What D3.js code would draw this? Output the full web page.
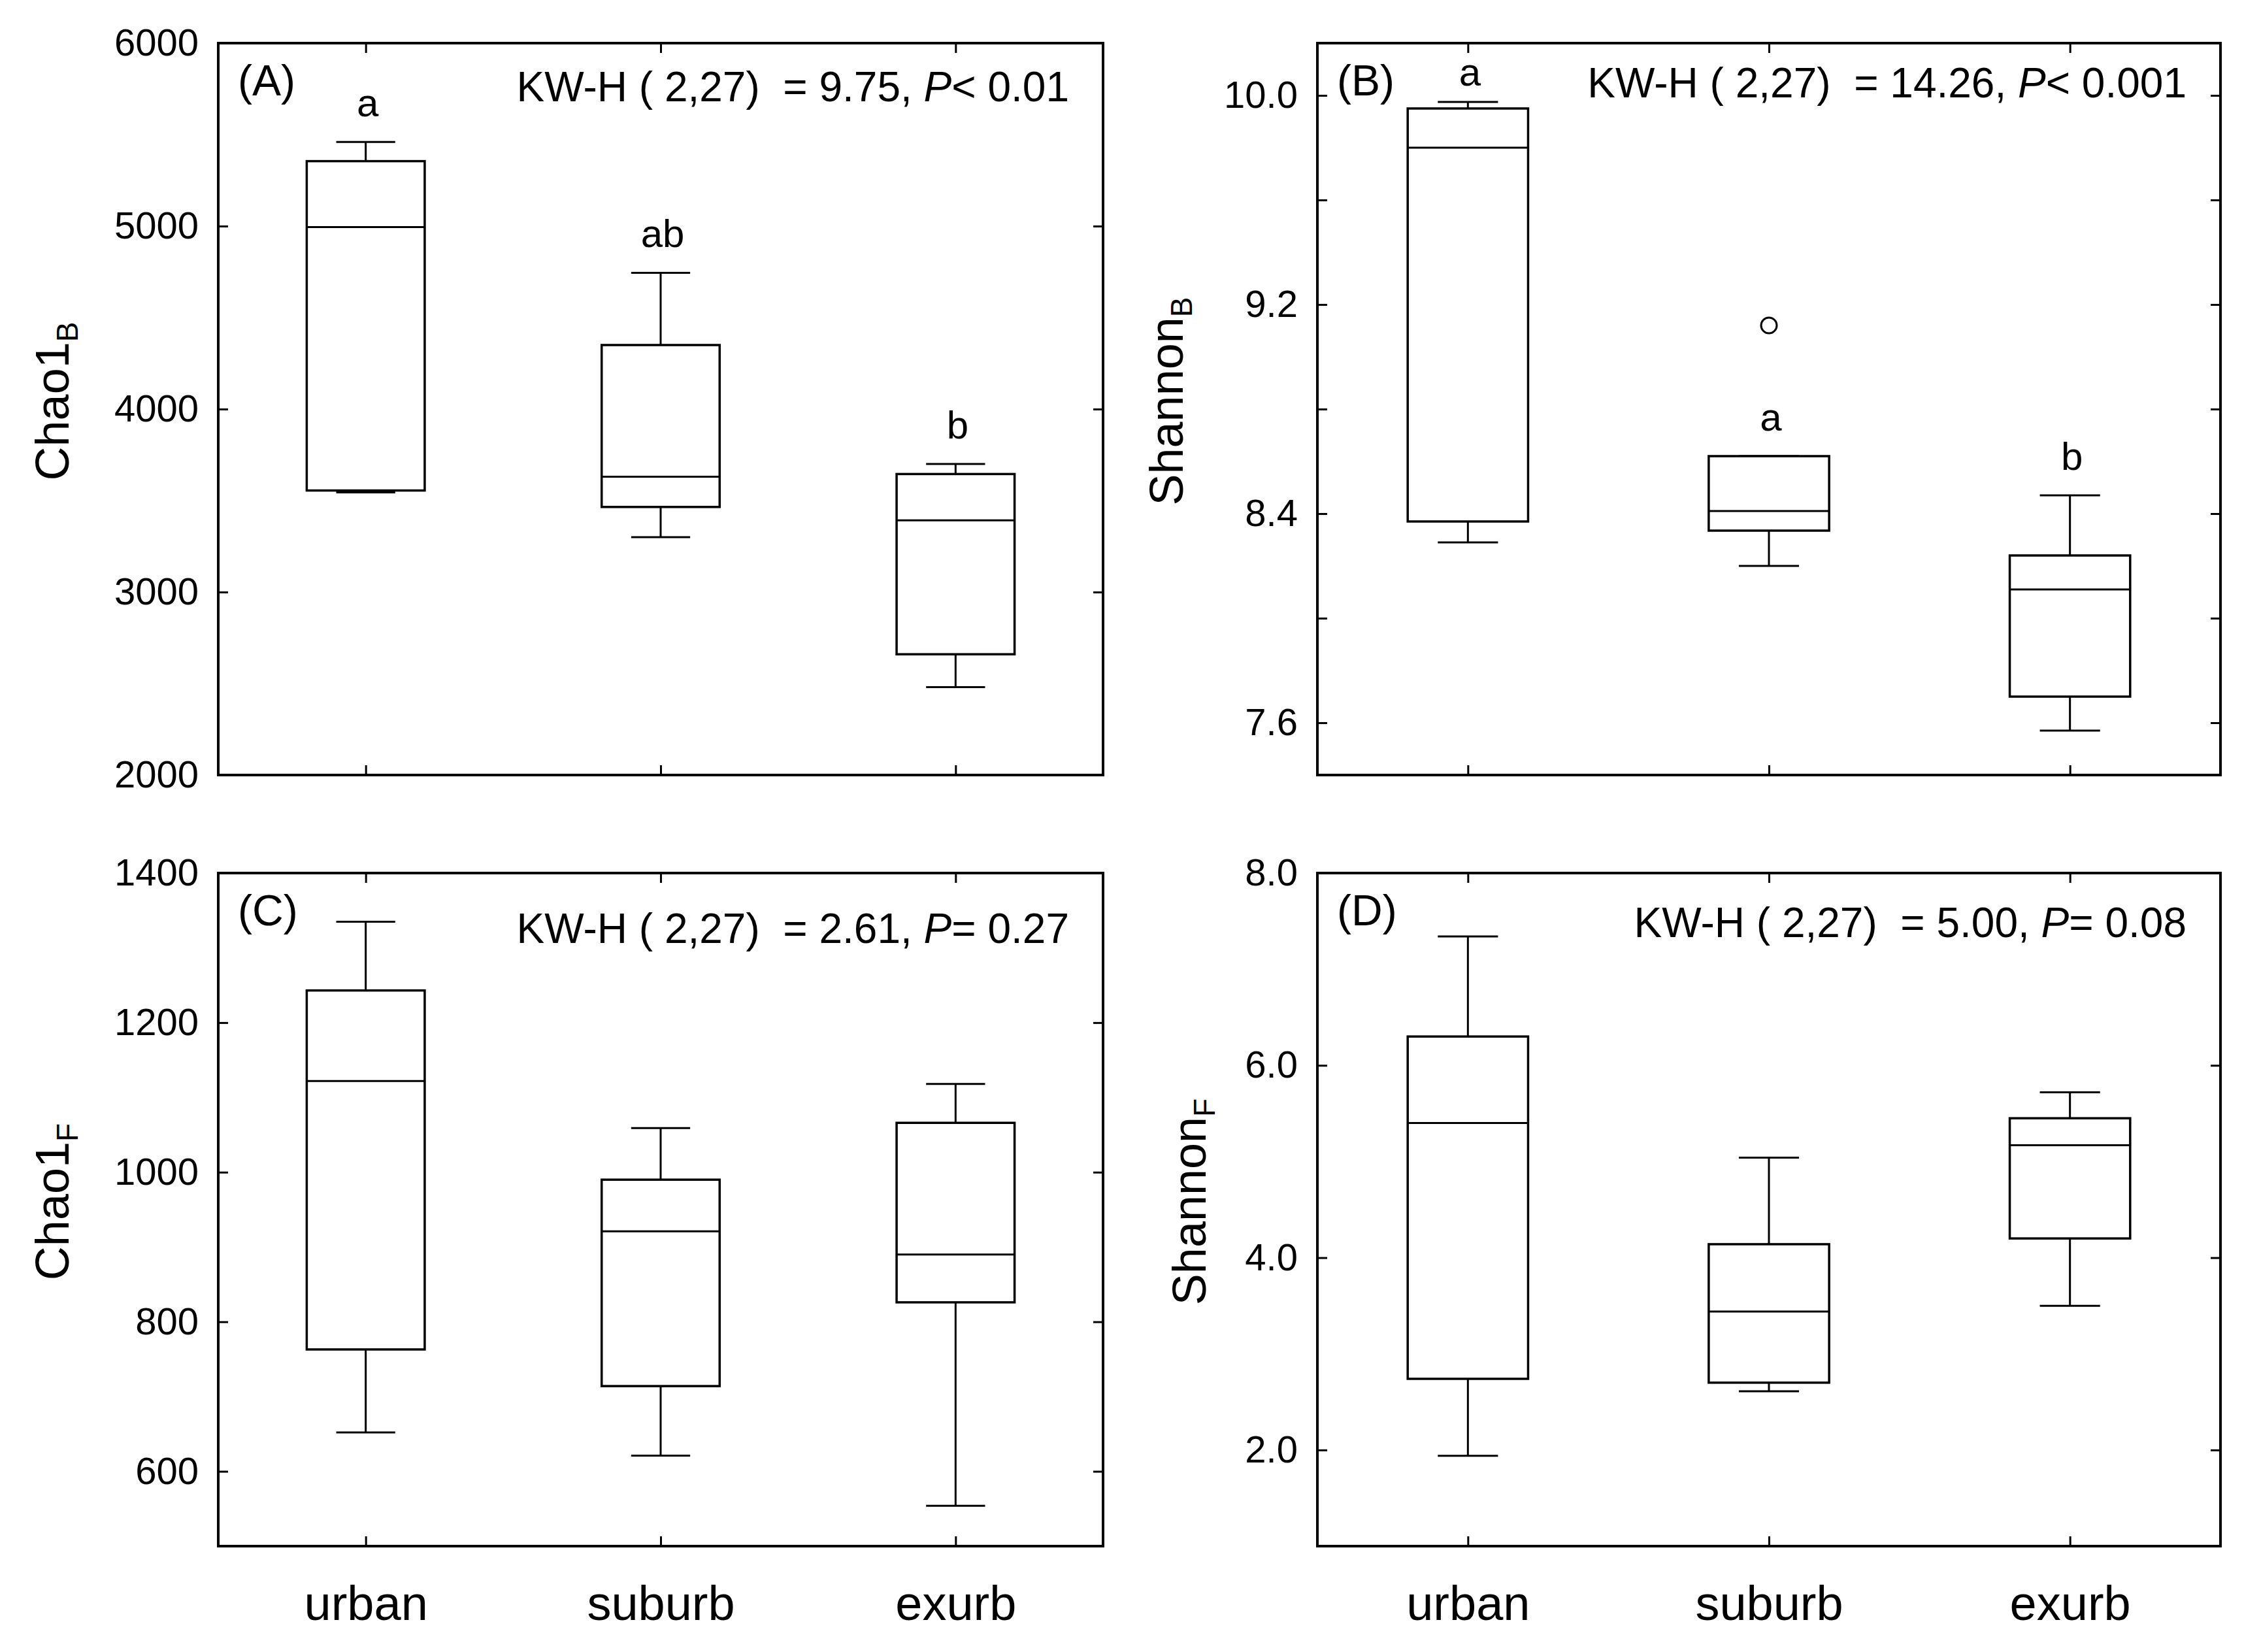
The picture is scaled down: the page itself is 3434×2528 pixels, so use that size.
<!DOCTYPE html>
<html>
<head>
<meta charset="utf-8">
<script src="https://cdn.jsdelivr.net/npm/d3@7"></script>
<style>
  body { margin: 0; background: #fff; }
  text { font-family: "Liberation Sans", Arial, sans-serif; fill: #000; }
</style>
</head>
<body>
<div id="chart"></div>
<script>
// ---------- DATA ----------
// box stats per group: [whisker low, q1, median, q3, whisker high]
const groups = ["urban", "suburb", "exurb"];

const chaoB = [
  [3545, 3555, 4995, 5355, 5460],
  [3300, 3465, 3630, 4350, 4745],
  [2480, 2660, 3392, 3645, 3700]
];
const shannonB = [
  [8.29, 8.37, 9.80, 9.95, 9.975],
  [8.20, 8.335, 8.41, 8.62, 8.62],
  [7.57, 7.70, 8.11, 8.24, 8.47]
];
const shannonBOutliers = [["suburb", 9.12]];
const chaoF = [
  [652, 763, 1122, 1243, 1335],
  [621, 714, 921, 990, 1059],
  [554, 826, 890, 1066, 1118]
];
const shannonF = [
  [1.94, 2.74, 5.40, 6.30, 7.34],
  [2.61, 2.70, 3.44, 4.14, 5.04],
  [3.50, 4.20, 5.17, 5.45, 5.72]
];

const lettersA = ["a", "ab", "b"];
const lettersB = ["a", "a", "b"];

const chaoBTicks = [2000, 3000, 4000, 5000, 6000];
const shannonBTicks = [7.6, 8.0, 8.4, 8.8, 9.2, 9.6, 10.0];
const shannonBLabels = [7.6, 8.4, 9.2, 10.0];
const chaoFTicks = [600, 800, 1000, 1200, 1400];
const shannonFTicks = [2, 4, 6, 8];

const kwH = ["9.75", "14.26", "2.61", "5.00"];
const pText = ["< 0.01", "< 0.001", "= 0.27", "= 0.08"];

// ---------- SVG ----------
const W = 3434, H = 2528;
const svg = d3.select("#chart").append("svg")
  .attr("width", W).attr("height", H);

const panels = [
  { id: "(A)", left: 334, right: 1688, top: 66, bottom: 1186, domain: [2000, 6000],
    data: chaoB, ticks: chaoBTicks, fmt: d => d, letters: lettersA,
    title: "Chao1", sub: "B", titleX: 80, stat: 0, statDy: 89, cats: false },
  { id: "(B)", left: 2016, right: 3398, top: 66, bottom: 1186, domain: [7.4, 10.2],
    data: shannonB, ticks: shannonBTicks, fmt: d => shannonBLabels.includes(d) ? d.toFixed(1) : "",
    letters: lettersB, outliers: shannonBOutliers,
    title: "Shannon", sub: "B", titleX: 1785, stat: 1, statDy: 83, cats: false },
  { id: "(C)", left: 334, right: 1688, top: 1336, bottom: 2366, domain: [500, 1400],
    data: chaoF, ticks: chaoFTicks, fmt: d => d,
    title: "Chao1", sub: "F", titleX: 80, stat: 2, statDy: 107, cats: true },
  { id: "(D)", left: 2016, right: 3398, top: 1336, bottom: 2366, domain: [1, 8],
    data: shannonF, ticks: shannonFTicks, fmt: d => d.toFixed(1),
    title: "Shannon", sub: "F", titleX: 1820, stat: 3, statDy: 98, cats: true }
];

panels.forEach(drawPanel);

function drawPanel(p) {
  const g = svg.append("g");

  const x = d3.scalePoint().domain(groups).range([p.left, p.right]).padding(0.5);
  const y = d3.scaleLinear().domain(p.domain).range([p.bottom, p.top]);

  // ---- axes (inward ticks) ----
  const tick = 15;
  const yl = g.append("g").attr("transform", `translate(${p.left},0)`)
    .call(d3.axisLeft(y).tickValues(p.ticks).tickSize(-tick).tickPadding(30).tickFormat(p.fmt));
  const yr = g.append("g").attr("transform", `translate(${p.right},0)`)
    .call(d3.axisRight(y).tickValues(p.ticks).tickSize(-tick).tickFormat(""));
  const xt = g.append("g").attr("transform", `translate(0,${p.top})`)
    .call(d3.axisTop(x).tickSize(-tick).tickFormat(""));
  const xb = g.append("g").attr("transform", `translate(0,${p.bottom})`)
    .call(d3.axisBottom(x).tickSize(-tick).tickPadding(60).tickFormat(p.cats ? d => d : ""));

  [yl, yr, xt, xb].forEach(a => {
    a.select(".domain").remove();
    a.selectAll(".tick line").attr("stroke", "#000").attr("stroke-width", 3);
  });
  yl.selectAll(".tick text").attr("font-size", 58).attr("font-family", null).attr("fill", "#000");
  xb.selectAll(".tick text").attr("font-size", 74).attr("font-family", null).attr("fill", "#000");

  // ---- frame ----
  g.append("rect")
    .attr("x", p.left).attr("y", p.top)
    .attr("width", p.right - p.left).attr("height", p.bottom - p.top)
    .attr("fill", "none").attr("stroke", "#000").attr("stroke-width", 4);

  // ---- boxes ----
  const bw = x.step() * 0.4, cw = bw * 0.5;
  const boxes = g.selectAll(".box").data(p.data).enter().append("g").attr("class", "box");

  boxes.each(function(d, i) {
    const b = d3.select(this);
    const cx = x(groups[i]);
    const [lo, q1, med, q3, hi] = d;
    // whiskers
    b.append("line").attr("x1", cx).attr("x2", cx).attr("y1", y(q3)).attr("y2", y(hi));
    b.append("line").attr("x1", cx).attr("x2", cx).attr("y1", y(q1)).attr("y2", y(lo));
    b.append("line").attr("x1", cx - cw / 2).attr("x2", cx + cw / 2).attr("y1", y(hi)).attr("y2", y(hi));
    b.append("line").attr("x1", cx - cw / 2).attr("x2", cx + cw / 2).attr("y1", y(lo)).attr("y2", y(lo));
    // box
    b.append("rect")
      .attr("x", cx - bw / 2).attr("y", y(q3))
      .attr("width", bw).attr("height", y(q1) - y(q3))
      .attr("fill", "#fff");
    b.append("line").attr("x1", cx - bw / 2).attr("x2", cx + bw / 2).attr("y1", y(med)).attr("y2", y(med));
  });
  boxes.selectAll("line").attr("stroke", "#000").attr("stroke-width", 3);
  boxes.selectAll("rect").attr("stroke", "#000").attr("stroke-width", 3.5);

  // ---- outliers ----
  if (p.outliers) {
    g.selectAll(".out").data(p.outliers).enter().append("circle")
      .attr("cx", d => x(d[0])).attr("cy", d => y(d[1])).attr("r", 12)
      .attr("fill", "none").attr("stroke", "#000").attr("stroke-width", 3);
  }

  // ---- significance letters ----
  if (p.letters) {
    g.selectAll(".let").data(p.letters).enter().append("text")
      .attr("x", (d, i) => x(groups[i]) + 3)
      .attr("y", (d, i) => Math.max(y(p.data[i][4]) - 60, p.top + 44))
      .attr("dy", "0.35em")
      .attr("text-anchor", "middle")
      .attr("font-size", 60)
      .text(d => d);
  }

  // ---- panel id ----
  g.append("text")
    .attr("x", p.left + 30).attr("y", p.top + 80)
    .attr("font-size", 66)
    .text(p.id);

  // ---- KW-H statistic ----
  const st = g.append("text")
    .attr("x", p.right - 52).attr("y", p.top + p.statDy)
    .attr("text-anchor", "end")
    .attr("font-size", 64)
    .attr("xml:space", "preserve");
  st.append("tspan").text("KW-H ( 2,27)  = " + kwH[p.stat] + ", ");
  st.append("tspan").attr("font-style", "italic").text("P");
  st.append("tspan").text(pText[p.stat]);

  // ---- y title ----
  const t = g.append("text")
    .attr("transform", `translate(${p.titleX},${(p.top + p.bottom) / 2 - 12}) rotate(-90)`)
    .attr("text-anchor", "middle")
    .attr("dy", "0.35em")
    .attr("font-size", 72);
  t.append("tspan").text(p.title);
  t.append("tspan").attr("font-size", 46).attr("dy", "0.3em").text(p.sub);
}
</script>
</body>
</html>
